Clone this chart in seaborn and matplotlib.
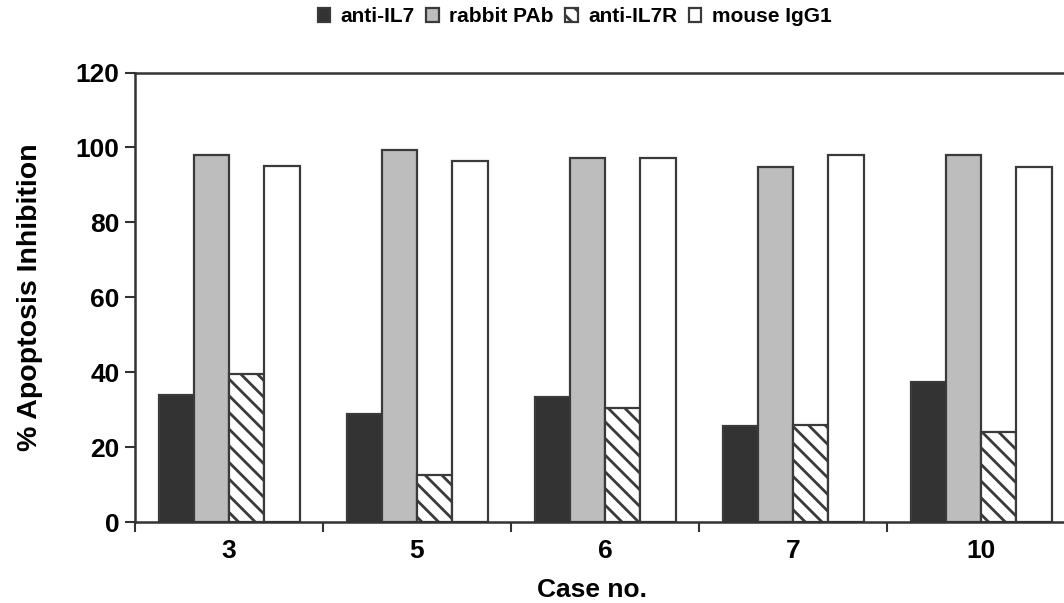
import matplotlib
matplotlib.use("Agg")
import matplotlib.pyplot as plt
from matplotlib.ticker import FixedLocator
import numpy as np
import pandas as pd
import seaborn as sns

# values (% apoptosis inhibition)
cases = ["3", "5", "6", "7", "10"]
anti_il7 = [33.9, 28.8, 33.4, 25.6, 37.3]
rabbit_pab = [98.0, 99.3, 97.1, 94.9, 98.0]
anti_il7r = [39.4, 12.6, 30.4, 25.9, 24.1]
mouse_igg1 = [95.0, 96.4, 97.1, 98.0, 94.9]

treatments = ["anti-IL7", "rabbit PAb", "anti-IL7R", "mouse IgG1"]
colors = ["#333333", "#bdbdbd", "#ffffff", "#ffffff"]

df = pd.DataFrame({
    "case": cases * 4,
    "treatment": np.repeat(treatments, len(cases)),
    "value": anti_il7 + rabbit_pab + anti_il7r + mouse_igg1,
})

sns.set_style("white")
plt.rcParams["font.family"] = ["Liberation Sans", "DejaVu Sans"]
plt.rcParams["font.weight"] = "bold"
plt.rcParams["text.color"] = "black"
plt.rcParams["axes.labelcolor"] = "black"
plt.rcParams["hatch.linewidth"] = 2.0
plt.rcParams["hatch.color"] = "#222222"

fig = plt.figure(figsize=(10.64, 6.03), dpi=100)
# axes runs a little past the right edge, like the cropped original
ax = fig.add_axes([135 / 1064, 1 - 522 / 603, 940 / 1064, 449.5 / 603])

sns.barplot(
    data=df, x="case", y="value", hue="treatment",
    order=cases, hue_order=treatments, palette=colors,
    width=0.75, edgecolor="#3a3a3a", linewidth=1.6, saturation=1,
    ax=ax,
)
for bar in ax.containers[2]:
    bar.set_hatch("\\\\")

ax.set_xlim(-0.5, 4.5)
ax.set_ylim(0, 120)
ax.set_yticks(range(0, 121, 20))
ax.tick_params(axis="y", which="major", length=7, width=1.5, color="#333333",
               labelcolor="black", direction="out", left=True, labelsize=19, pad=4)
ax.tick_params(axis="x", which="major", length=0, labelsize=19, pad=12,
               labelcolor="black")
ax.xaxis.set_minor_locator(FixedLocator(np.arange(-0.5, 5, 1.0)))
ax.tick_params(axis="x", which="minor", length=7, width=1.5, color="#333333",
               direction="out", bottom=True)

for side in ["left", "bottom", "top", "right"]:
    ax.spines[side].set_color("#333333")
    ax.spines[side].set_linewidth(1.8)

ax.set_xlabel("Case no.", fontsize=19, fontweight="bold", va="center")
ax.xaxis.set_label_coords((592 - 135) / 940, (522 - 590) / 449.5)
ax.set_ylabel("% Apoptosis Inhibition", fontsize=20.5, fontweight="bold", labelpad=24)

ax.get_legend().remove()
handles = [c.patches[0] for c in ax.containers]
fig.legend(
    handles, treatments, loc="center", bbox_to_anchor=(0.540, 0.972), ncol=4,
    frameon=False, handlelength=0.6, handleheight=0.6, handletextpad=0.5,
    columnspacing=0.55, prop={"size": 15, "weight": "bold"},
)

fig.savefig("out.png", dpi=100)
